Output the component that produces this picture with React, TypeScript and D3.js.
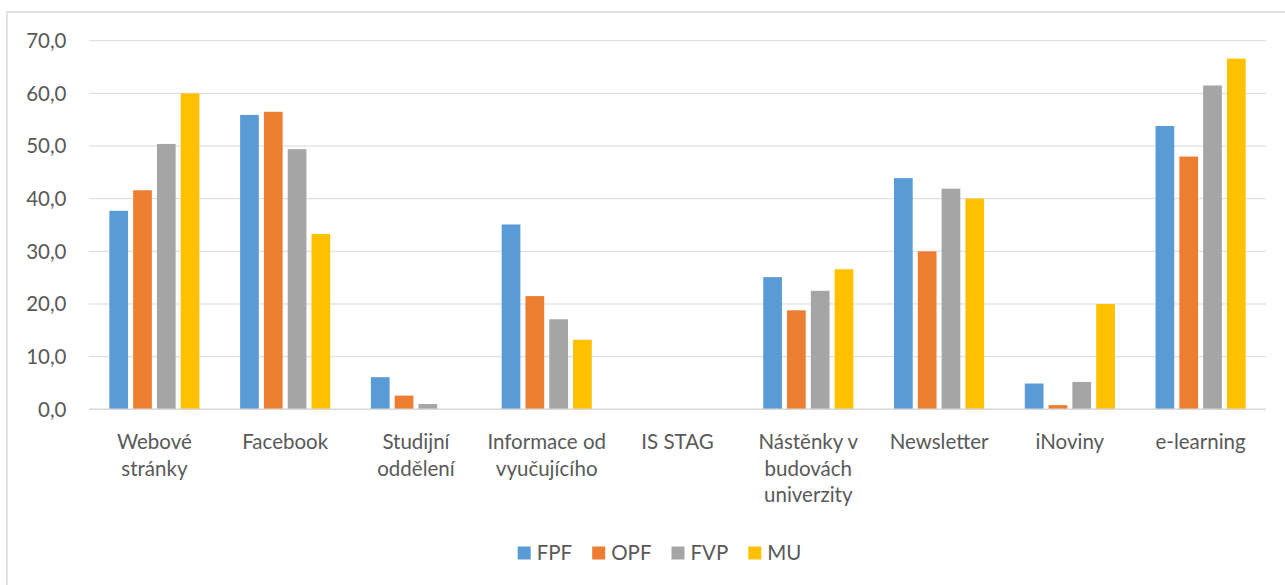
import React, { useRef, useEffect } from 'react';
import * as d3 from 'd3';

const categories = [
  'Webové\nstránky',
  'Facebook',
  'Studijní\noddělení',
  'Informace od\nvyučujícího',
  'IS STAG',
  'Nástěnky v\nbudovách\nuniverzity',
  'Newsletter',
  'iNoviny',
  'e-learning',
];
const seriesNames = ['FPF', 'OPF', 'FVP', 'MU'];
const seriesColors = ['#5b9bd5', '#ed7d31', '#a5a5a5', '#ffc000'];
const fpf = [37.7, 55.9, 6.1, 35.1, 0, 25.1, 43.9, 4.9, 53.8];
const opf = [41.6, 56.5, 2.6, 21.5, 0, 18.8, 30.0, 0.8, 48.0];
const fvp = [50.4, 49.4, 1.0, 17.1, 0, 22.5, 41.9, 5.2, 61.5];
const mu = [60.0, 33.3, 0, 13.2, 0, 26.6, 40.0, 20.0, 66.6];
const yTicks = [0, 10, 20, 30, 40, 50, 60, 70];

const App: React.FC = () => {
  const ref = useRef<SVGSVGElement>(null);

  useEffect(() => {
    const svg = d3.select(ref.current);
    svg.selectAll('*').remove();
    const width = 1285;
    const height = 585;
    const margin = { top: 40.7, right: 19, bottom: 175.7, left: 89 };
    const font = 'Lato, "Open Sans", sans-serif';
    const fontSize = 20.5;
    const textColor = '#595959';
    const series = [fpf, opf, fvp, mu];

    svg.attr('width', width).attr('height', height);

    // chart border
    svg.append('rect')
      .attr('x', 7).attr('y', 12)
      .attr('width', width + 10).attr('height', height + 10)
      .attr('fill', '#fff')
      .attr('stroke', '#d9d9d9')
      .attr('stroke-width', 1.5);

    const x0 = d3.scaleBand<string>()
      .domain(categories)
      .range([margin.left, width - margin.right])
      .padding(0);

    const bw = x0.bandwidth();
    const groupPad = 0.136 * bw;
    const x1 = d3.scaleBand<string>()
      .domain(seriesNames)
      .range([groupPad, bw - groupPad])
      .paddingInner(0.214)
      .paddingOuter(0.107);

    const y = d3.scaleLinear()
      .domain([0, 70])
      .range([height - margin.bottom, margin.top]);

    // gridlines
    svg.append('g')
      .selectAll('line')
      .data(yTicks)
      .join('line')
      .attr('x1', margin.left)
      .attr('x2', width - margin.right)
      .attr('y1', d => y(d))
      .attr('y2', d => y(d))
      .attr('stroke', '#d9d9d9')
      .attr('stroke-width', 1);

    // y labels
    svg.append('g')
      .selectAll('text')
      .data(yTicks)
      .join('text')
      .attr('x', 66.5)
      .attr('y', d => y(d))
      .attr('dy', '0.36em')
      .attr('text-anchor', 'end')
      .attr('font-family', font)
      .attr('font-size', fontSize)
      .attr('fill', textColor)
      .text(d => d3.format('.1f')(d).replace('.', ','));

    // bars
    const groups = svg.append('g')
      .selectAll('g')
      .data(categories)
      .join('g')
      .attr('transform', d => `translate(${x0(d)},0)`);

    groups.selectAll('rect')
      .data((d, i) => seriesNames.map((s, j) => ({ s, v: series[j][i], c: seriesColors[j] })))
      .join('rect')
      .filter(d => d.v > 0)
      .attr('x', d => x1(d.s)!)
      .attr('width', x1.bandwidth())
      .attr('y', d => y(d.v))
      .attr('height', d => y(0) - y(d.v))
      .attr('fill', d => d.c);

    // axis line
    svg.append('line')
      .attr('x1', margin.left)
      .attr('x2', width - margin.right)
      .attr('y1', y(0))
      .attr('y2', y(0))
      .attr('stroke', '#d9d9d9')
      .attr('stroke-width', 1.5);

    // category labels
    svg.append('g')
      .selectAll('text')
      .data(categories)
      .join('text')
      .attr('x', d => x0(d)! + bw / 2)
      .attr('y', 449)
      .attr('text-anchor', 'middle')
      .attr('font-family', font)
      .attr('font-size', fontSize)
      .attr('fill', textColor)
      .selectAll('tspan')
      .data(d => d.split('\n'))
      .join('tspan')
      .attr('x', function () { return (this.parentNode as SVGTextElement).getAttribute('x'); })
      .attr('dy', (d, i) => (i === 0 ? 0 : 26.5))
      .text(d => d);

    // legend
    const legend = svg.append('g');
    let lx = 517.7;
    seriesNames.forEach((s, i) => {
      legend.append('rect')
        .attr('x', lx).attr('y', 546.5)
        .attr('width', 13).attr('height', 13)
        .attr('fill', seriesColors[i]);
      const t = legend.append('text')
        .attr('x', lx + 19)
        .attr('y', 560)
        .attr('font-family', font)
        .attr('font-size', fontSize)
        .attr('fill', textColor)
        .text(s);
      const tw = (t.node() as SVGTextElement).getComputedTextLength();
      lx += 19 + tw + 20;
    });
  }, []);

  return <svg ref={ref} style={{ position: 'absolute', left: 0, top: 0 }}></svg>;
};

export default App;
